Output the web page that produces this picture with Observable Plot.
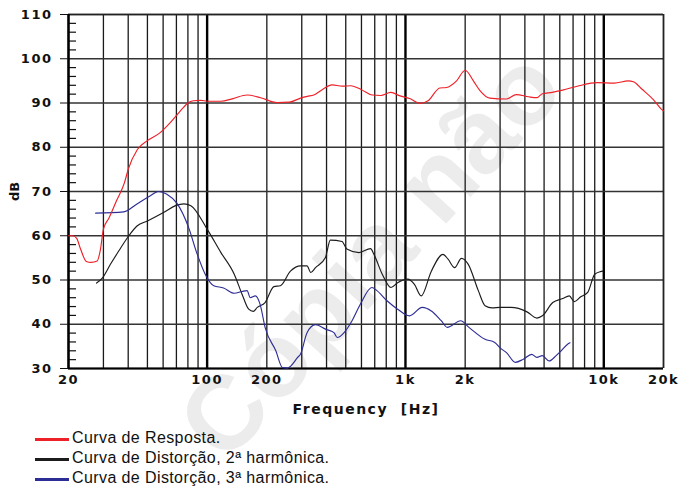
<!DOCTYPE html>
<html>
<head>
<meta charset="utf-8">
<script src="https://cdn.jsdelivr.net/npm/d3@7"></script>
<script src="https://cdn.jsdelivr.net/npm/@observablehq/plot@0.6"></script>
<style>
  body { margin: 0; background: #fff; }
  #wrap { position: relative; width: 681px; height: 490px; overflow: hidden; }
  #wm { position: absolute; left: 0; top: 0; }
  #chart { position: absolute; left: 0; top: 0; }
  #chart g[aria-label="y-axis tick label"], #chart g[aria-label="x-axis tick label"] { letter-spacing: 1.5px; }
  #chart g[aria-label="x-axis label"] { font-size: 14px; letter-spacing: 1.5px; }
  .leg { position: absolute; left: 72px; height: 20px; line-height: 20px; font-family: "Liberation Sans", Arial, sans-serif; font-size: 16px; letter-spacing: 0.4px; color: #111; white-space: nowrap; }
  .sw { position: absolute; left: 35px; width: 34px; height: 3px; }
</style>
</head>
<body>
<div id="wrap">
  <svg id="wm" width="681" height="490">
    <text x="225" y="466" transform="rotate(-47.6 225 466)" font-family="Liberation Sans, Arial, sans-serif" font-weight="bold" font-size="105" fill="#ececec">Cópia não</text>
  </svg>
  <div id="chart"></div>
  <div id="legend"></div>
</div>
<script>
// ---- data ----
const respFreq = [20, 21, 22, 23, 24.6, 26, 27.9, 29, 30, 32, 35, 38.3, 40, 44.5, 50, 58, 65, 71, 76, 80, 85, 93, 100, 117, 135, 159, 186, 225, 260, 296, 320, 345, 380, 427, 480, 530, 600, 680, 750, 843, 940, 1050, 1185, 1300, 1490, 1610, 1810, 2000, 2200, 2375, 2660, 3230, 3620, 4180, 4600, 4900, 5500, 6200, 7500, 9270, 11300, 13300, 14100, 15600, 18000, 19500, 20000];
const respDb = [60, 60, 59.4, 57, 54.2, 54, 54.3, 57, 61.5, 64, 68, 72, 75, 79.5, 81.5, 83.3, 85.5, 87.5, 89, 90, 90.5, 90.6, 90.4, 90.4, 91, 91.8, 91.2, 90.1, 90.2, 91.1, 91.5, 91.8, 93, 94.1, 93.8, 93.9, 93, 91.8, 91.7, 92.4, 91.6, 91, 89.9, 90.5, 93.4, 93.5, 95, 97.4, 95, 92.8, 91.1, 90.9, 91.9, 91.4, 91.2, 92.1, 92.4, 92.9, 93.9, 94.6, 94.5, 95, 94.8, 93.1, 90.5, 88.6, 88.2];

const h2Freq = [27.7, 29.6, 32.6, 35.9, 40.3, 44.3, 50.3, 60.6, 69.3, 76.4, 82.8, 100, 117, 137, 150, 162, 171, 179, 196, 217, 234, 263, 296, 319, 333, 352, 395, 418, 479, 506, 583, 667, 692, 764, 845, 913, 1027, 1110, 1200, 1350, 1545, 1640, 1770, 1915, 2070, 2330, 2520, 2730, 3000, 3400, 4100, 4600, 4900, 5530, 6200, 6700, 7100, 7650, 8300, 9000, 9620, 9900];
const h2Db = [49.3, 50.4, 53.6, 56.6, 60, 62.2, 63.4, 65.3, 66.8, 67.2, 66.8, 61.5, 56.3, 51.3, 46.8, 43.4, 42.9, 43.8, 44.9, 48.5, 48.7, 52, 53.2, 53.2, 51.7, 52.8, 55.1, 59, 58.7, 57, 56.2, 57.1, 55.9, 51.3, 48.3, 49.4, 50.2, 49, 46.4, 52, 55.8, 54.7, 52.8, 54.9, 53.6, 47.6, 44.2, 43.7, 43.8, 43.8, 42.8, 41.4, 41.9, 44.9, 45.8, 46.4, 45.1, 46.2, 47.2, 51.3, 51.9, 52];

const h3Freq = [27.4, 38, 44.3, 51.5, 56.8, 62.7, 70.5, 80.6, 89, 97.8, 108, 121, 137, 150, 159, 165, 175, 185, 196, 222, 240, 254, 286, 296, 319, 352, 395, 436, 453, 490, 538, 592, 677, 718, 807, 913, 1047, 1215, 1350, 1515, 1625, 1900, 2090, 2520, 2820, 3010, 3230, 3580, 3930, 4330, 4600, 4900, 5300, 5750, 6100, 6570, 6750];
const h3Db = [65.1, 65.4, 67.2, 69, 70, 69.4, 67.3, 61.9, 55.9, 51.3, 48.7, 48.2, 47, 47.4, 47.6, 46, 46.4, 44.5, 39.3, 34, 30.2, 30.1, 32.5, 33.3, 38.1, 39.9, 38.9, 38.1, 37, 38.1, 40.8, 44.5, 48.3, 47.6, 45.3, 43.4, 41.9, 43.8, 43, 40.8, 39.3, 40.8, 39.3, 36.6, 35.9, 34.6, 33.6, 31.4, 32.1, 33.2, 32.5, 32.9, 31.7, 32.9, 34, 35.5, 35.8];

const xTicks = [20, 50, 100, 200, 500, 1000, 2000, 5000, 10000, 20000];
const xTickLabels = ["20", "50", "100", "200", "500", "1k", "2k", "5k", "10k", "20k"];
const xGridMinor = [30, 40, 50, 60, 70, 80, 90, 200, 300, 400, 500, 600, 700, 800, 900, 2000, 3000, 4000, 5000, 6000, 7000, 8000, 9000];
const xGridMajor = [100, 1000, 10000];
const yTicks = [30, 40, 50, 60, 70, 80, 90, 100, 110];
const yMinor = d3.range(30, 110, 2).filter(v => v % 10 !== 0);

const seriesNames = ["Curva de Resposta.", "Curva de Distorção, 2ª harmônica.", "Curva de Distorção, 3ª harmônica."];
const seriesColors = ["#ee2028", "#1c1c1c", "#2d2d96"];

// ---- tables ----
const toRows = (fs, ds) => fs.map((f, i) => ({f, db: ds[i]}));
const resp = toRows(respFreq, respDb);
const h2 = toRows(h2Freq, h2Db);
const h3 = toRows(h3Freq, h3Db);
const labelMap = new Map(xTicks.map((t, i) => [t, xTickLabels[i]]));

const W = 681, H = 420, ML = 68, MR = 18;
const chart = Plot.plot({
  width: W, height: H,
  marginLeft: ML, marginRight: MR, marginTop: 14, marginBottom: 52,
  style: {background: "transparent", fontFamily: "DejaVu Sans, sans-serif", fontSize: "13px", color: "#111", overflow: "visible"},
  x: {type: "log", domain: [20, 20000]},
  y: {domain: [30, 110]},
  marks: [
    Plot.ruleX(xGridMinor, {stroke: "#1a1a1a", strokeWidth: 1.3}),
    Plot.ruleX(xGridMajor, {stroke: "#000", strokeWidth: 2.4}),
    Plot.ruleY(yTicks, {stroke: "#333", strokeWidth: 1.3}),
    Plot.tickY(yMinor, {insetRight: W - ML - MR - 8, stroke: "#111", strokeWidth: 1.2}),
    Plot.ruleX([20000], {stroke: "#222", strokeWidth: 1.8}),
    Plot.ruleY([110], {stroke: "#222", strokeWidth: 1.6}),
    Plot.ruleX([20], {stroke: "#000", strokeWidth: 2.6}),
    Plot.ruleY([30], {stroke: "#000", strokeWidth: 2.2}),
    Plot.line(h2, {x: "f", y: "db", stroke: seriesColors[1], strokeWidth: 1.15, curve: "monotone-x"}),
    Plot.line(h3, {x: "f", y: "db", stroke: seriesColors[2], strokeWidth: 1.15, curve: "monotone-x"}),
    Plot.line(resp, {x: "f", y: "db", stroke: seriesColors[0], strokeWidth: 1.15, curve: "monotone-x"}),
    Plot.axisY({ticks: yTicks, tickSize: 8, tickPadding: 8, fontWeight: "bold", label: "dB", labelAnchor: "center", labelOffset: 59, labelArrow: false}),
    Plot.axisX({ticks: xTicks, tickFormat: d => labelMap.get(d), tickSize: 0, tickPadding: 6, fontWeight: "bold", label: "Frequency\u00a0\u00a0[Hz]", labelAnchor: "center", labelOffset: 45, labelArrow: false})
  ]
});
document.getElementById("chart").appendChild(chart);

// ---- legend (HTML, below the SVG) ----
const legend = document.getElementById("legend");
seriesNames.forEach((name, i) => {
  const sw = document.createElement("div");
  sw.className = "sw";
  sw.style.top = (437.5 + 20 * i) + "px";
  sw.style.background = seriesColors[i];
  legend.appendChild(sw);
  const t = document.createElement("div");
  t.className = "leg";
  t.style.top = (427.5 + 20 * i) + "px";
  t.textContent = name;
  legend.appendChild(t);
});
</script>
</body>
</html>
